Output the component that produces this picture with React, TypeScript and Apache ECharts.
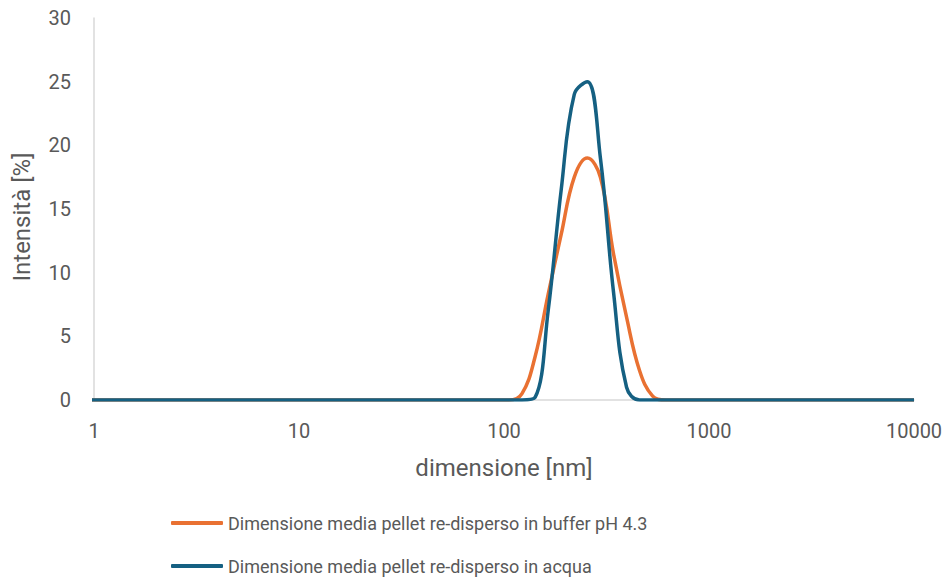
import React, { useEffect, useRef } from "react";
import * as echarts from "echarts";

const sizes = [
  0.9649, 1.117, 1.294, 1.499, 1.736, 2.01, 2.328, 2.696, 3.122, 3.615, 4.187, 4.849, 5.615, 6.503,
  7.531, 8.721, 10.1, 11.7, 13.54, 15.69, 18.17, 21.04, 24.36, 28.21, 32.67, 37.84, 43.82, 50.75,
  58.77, 68.06, 78.82, 91.28, 105.7, 122.4, 141.8, 164.2, 190.1, 220.2, 255.0, 295.3, 342.0, 396.1,
  458.7, 531.2, 615.1, 712.4, 825.0, 955.4, 1106, 1281, 1484, 1718, 1990, 2305, 2669, 3091, 3580,
  4145, 4801, 5560, 6439, 7456, 8635, 10000,
];

const bufferValues = [
  0, 0, 0, 0, 0, 0, 0, 0, 0, 0, 0, 0, 0, 0,
  0, 0, 0, 0, 0, 0, 0, 0, 0, 0, 0, 0, 0, 0,
  0, 0, 0, 0, 0, 0.5, 3.4, 8.3, 13.0, 17.5, 19.0, 17.5, 11.5, 6.5,
  2.3, 0.3, 0, 0, 0, 0, 0, 0, 0, 0, 0, 0, 0, 0, 0,
  0, 0, 0, 0, 0, 0, 0,
];

const waterValues = [
  0, 0, 0, 0, 0, 0, 0, 0, 0, 0, 0, 0, 0, 0,
  0, 0, 0, 0, 0, 0, 0, 0, 0, 0, 0, 0, 0, 0,
  0, 0, 0, 0, 0, 0, 0.2, 7.0, 16.5, 24.0, 25.0, 19.0, 8.5, 1.0,
  0, 0, 0, 0, 0, 0, 0, 0, 0, 0, 0, 0, 0, 0, 0,
  0, 0, 0, 0, 0, 0, 0,
];

const seriesNames = [
  "Dimensione media pellet re-disperso in buffer pH 4.3",
  "Dimensione media pellet re-disperso in acqua",
];

const yTicks = { min: 0, max: 30, interval: 5 };

const FONT = "Roboto, 'Liberation Sans', sans-serif";
const TEXT = "#595959";

const legendBase = {
  orient: "vertical",
  left: 166,
  itemWidth: 52,
  itemHeight: 4,
  icon: "roundRect",
  textStyle: { fontSize: 18, color: TEXT, fontFamily: FONT },
};

export default function App() {
  const ref = useRef<HTMLDivElement>(null);
  useEffect(() => {
    if (!ref.current) return;
    const chart = echarts.init(ref.current, undefined, { renderer: "svg" });
    chart.setOption({
      animation: false,
      backgroundColor: "#ffffff",
      textStyle: { fontFamily: FONT },
      grid: { left: 94, right: 36, top: 18, bottom: 181, containLabel: false },
      legend: [
        { ...legendBase, top: 509, data: [seriesNames[0]] },
        { ...legendBase, top: 552, data: [seriesNames[1]] },
      ],
      xAxis: {
        type: "log",
        logBase: 10,
        min: 1,
        max: 10000,
        name: "dimensione [nm]",
        nameLocation: "middle",
        nameGap: 56,
        nameTextStyle: { fontSize: 24, color: TEXT, fontFamily: FONT },
        axisLine: { show: true, lineStyle: { color: "#d9d9d9", width: 1.5 } },
        axisTick: { show: false },
        splitLine: { show: false },
        minorTick: { show: false },
        axisLabel: {
          fontSize: 20,
          color: TEXT,
          margin: 21,
          formatter: (v: number) => String(Math.round(v)),
        },
      },
      yAxis: {
        type: "value",
        min: yTicks.min,
        max: yTicks.max,
        interval: yTicks.interval,
        name: "Intensità [%]",
        nameLocation: "middle",
        nameGap: 60,
        nameTextStyle: { fontSize: 24, color: TEXT, fontFamily: FONT, padding: [0, 16, 0, 0] },
        axisLine: { show: true, lineStyle: { color: "#d9d9d9", width: 1.5 } },
        axisTick: { show: false },
        splitLine: { show: false },
        axisLabel: { fontSize: 20, color: TEXT, margin: 23 },
      },
      series: [
        {
          name: seriesNames[0],
          type: "line",
          data: sizes.map((s, i) => [s, bufferValues[i]]),
          showSymbol: false,
          smooth: 0.4,
          color: "#E97132",
          lineStyle: { width: 3.5, color: "#E97132" },
        },
        {
          name: seriesNames[1],
          type: "line",
          data: sizes.map((s, i) => [s, waterValues[i]]),
          showSymbol: false,
          smooth: 0.4,
          color: "#156082",
          lineStyle: { width: 3.5, color: "#156082" },
        },
      ],
    });
    return () => chart.dispose();
  }, []);
  return (
    <div
      ref={ref}
      style={{ position: "fixed", left: 0, top: 0, width: 950, height: 581 }}
    />
  );
}
